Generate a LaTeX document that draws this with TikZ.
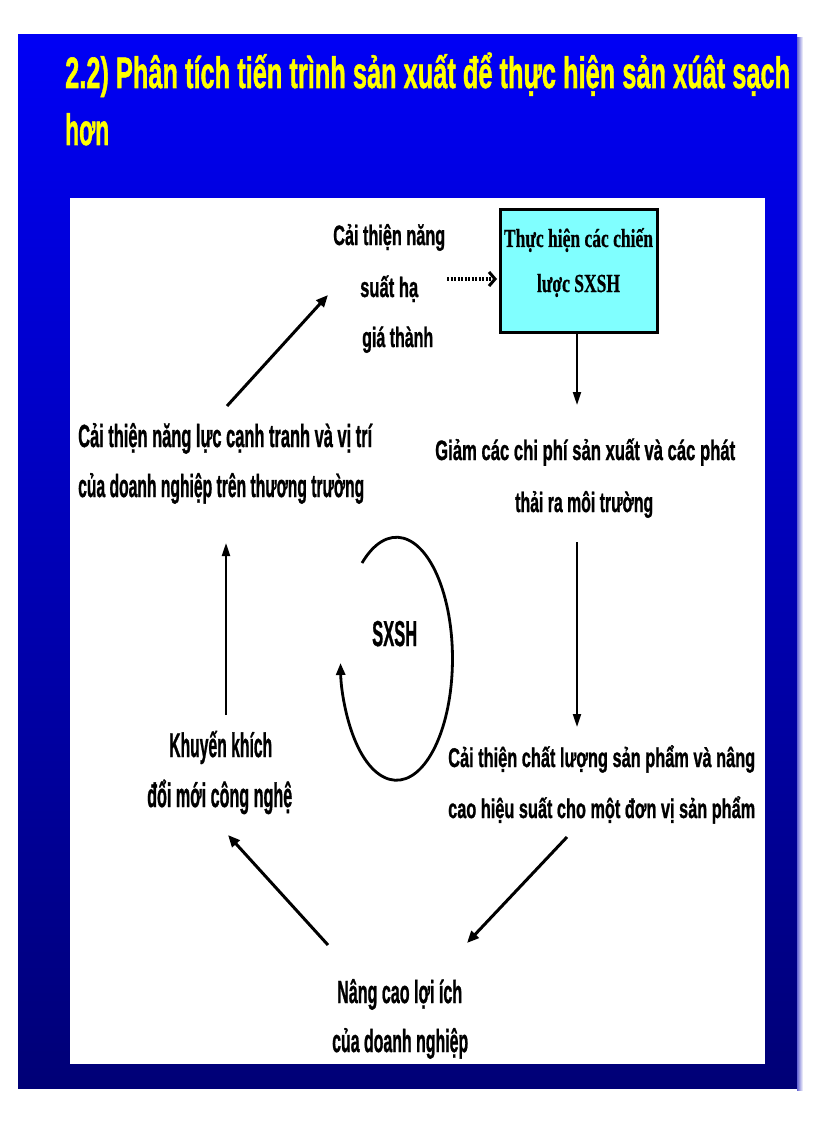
\documentclass[tikz,border=0pt]{standalone}
\usepackage{fontspec}
\setmainfont{Liberation Sans}
\newfontfamily\lblfont{Liberation Sans}[BoldFeatures={FakeBold=1.3}]
\newfontfamily\boxfont{Liberation Serif}[BoldFeatures={FakeBold=0.8}]
\usetikzlibrary{arrows.meta}
\definecolor{slidetop}{RGB}{0,0,245}
\definecolor{slidebot}{RGB}{0,0,118}
\definecolor{boxcyan}{RGB}{128,255,255}
\definecolor{titleyellow}{RGB}{255,255,0}
% #1 font size (pt), #2 target width (pt), #3 text
\newcommand{\fitline}[3]{{\fontsize{#1}{#1}\selectfont\resizebox{#2pt}{\height}{#3}}}
\begin{document}
\begin{tikzpicture}[x=1pt,y=-1pt,
  lbl/.style={inner sep=0pt, font=\lblfont\bfseries, text=black},
  lblw/.style={lbl, anchor=base west},
  titletext/.style={inner sep=0pt, anchor=base west, text=titleyellow, font=\lblfont\bfseries},
  arrthick/.style={line width=3pt, -{Triangle[length=12pt,width=10pt]}},
  arrthin/.style={line width=2pt, -{Triangle[length=13pt,width=8pt]}},
  arrdot/.style={line width=3.5pt, dash pattern=on 2pt off 1.5pt, -{Straight Barb[length=6pt,width=14pt,line width=3pt]}},
  cyclearc/.style={line width=2.8pt, -{Triangle[length=12pt,width=9pt]}}]
\useasboundingbox (0,0) rectangle (816,1123);
\fill[white] (0,0) rectangle (816,1123);
% slide background
\shade[top color=slidetop, bottom color=slidebot] (18,35) rectangle (797,1088);
\shade[left color={rgb,255:red,100;green,100;blue,210}, right color=white] (797,38) rectangle (803,1090);
% white panel
\fill[white] (70,198) rectangle (765,1064);
% title
\node[titletext] (title1) at (65,88)
  {\fitline{44}{725}{2.2) Phân tích tiến trình sản xuất để thực hiện sản xúât sạch}};
\node[titletext] (title2) at (65,145) {\fitline{44}{44}{hơn}};
% box
\node[draw=black, line width=3pt, fill=boxcyan, minimum width=157pt, minimum height=122pt, inner sep=0pt] (box) at (578.5,271) {};
\node[inner sep=0pt, anchor=base, font=\boxfont\bfseries] (boxl1) at (578.5,247) {\fitline{26}{149}{Thực hiện các chiến}};
\node[inner sep=0pt, anchor=base, font=\boxfont\bfseries] (boxl2) at (578.5,292) {\fitline{26}{83}{lược SXSH}};
% top text
\node[lblw] (top1) at (333,245) {\fitline{28}{112}{Cải thiện năng}};
\node[lblw] (top2) at (360,297) {\fitline{28}{58}{suất hạ}};
\node[lblw] (top3) at (362,347) {\fitline{28}{71}{giá thành}};
% left text
\node[lblw] (left1) at (78,447) {\fitline{32}{294}{Cải thiện năng lực cạnh tranh và vị trí}};
\node[lblw] (left2) at (78,497) {\fitline{32}{286}{của doanh nghiệp trên thương trường}};
% right text
\node[lblw] (right1) at (435,460) {\fitline{28}{300}{Giảm các chi phí sản xuất và các phát}};
\node[lblw] (right2) at (515,512) {\fitline{28}{138}{thải ra môi trường}};
% lower right text
\node[lblw] (lr1) at (448,767) {\fitline{27}{307}{Cải thiện chất lượng sản phẩm và nâng}};
\node[lblw] (lr2) at (448,818) {\fitline{27}{307}{cao hiệu suất cho một đơn vị sản phẩm}};
% bottom text
\node[lblw] (bot1) at (337,1003) {\fitline{32}{125}{Nâng cao lợi ích}};
\node[lblw] (bot2) at (332,1052) {\fitline{32}{136}{của doanh nghiệp}};
% lower left text
\node[lblw] (ll1) at (169,757) {\fitline{34}{103}{Khuyến khích}};
\node[lblw] (ll2) at (147,807) {\fitline{34}{145}{đổi mới công nghệ}};
% centre
\node[lblw] (sxsh) at (372,646) {\fitline{36}{45}{SXSH}};
% connector end points
\coordinate (aS) at (227,406); \coordinate (aE) at (328,295);
\coordinate (bS) at (447,279); \coordinate (bE) at (497,279);
\coordinate (cE) at (577,405);
\coordinate (dS) at (577,542); \coordinate (dE) at (577,727);
\coordinate (eS) at (567,837); \coordinate (eE) at (467,943);
\coordinate (fS) at (328,945); \coordinate (fE) at (228,835);
\coordinate (gS) at (226,715); \coordinate (gE) at (226,543);
\coordinate (arcS) at (362,563);
% connectors
\draw[arrthick] (aS) -- (aE);
\draw[arrdot] (bS) -- (bE);
\draw[arrthin] (box.south -| cE) -- (cE);
\draw[arrthin] (dS) -- (dE);
\draw[arrthick] (eS) -- (eE);
\draw[arrthick] (fS) -- (fE);
\draw[arrthin] (gS) -- (gE);
\draw[cyclearc] (arcS) arc[start angle=128, end angle=-178, x radius=56pt, y radius=121.5pt];
\end{tikzpicture}
\end{document}
